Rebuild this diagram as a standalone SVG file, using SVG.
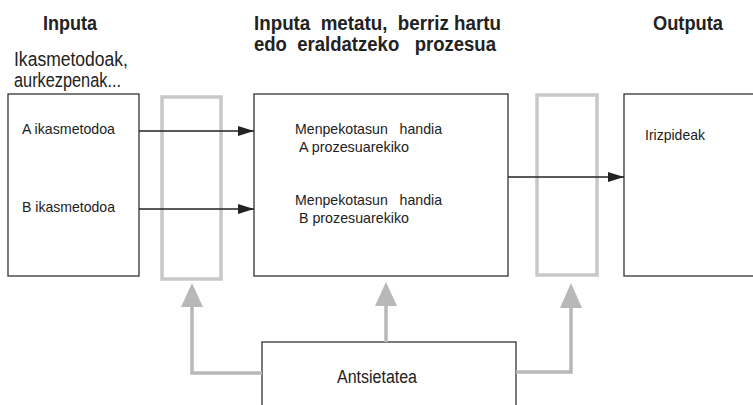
<svg xmlns="http://www.w3.org/2000/svg" width="753" height="405" viewBox="0 0 753 405">
<style>
text{font-family:"Liberation Sans",Arial,sans-serif;fill:#222}
.h{font-weight:bold;font-size:20px}
.s{font-size:20px}
.t{font-size:15px}
.box{fill:#fff;stroke:#333;stroke-width:1.3}
.gbox{fill:none;stroke:#c8c8c8;stroke-width:3.5}
.ln{stroke:#222;stroke-width:1.3;fill:none}
.gl{stroke:#b8b8b8;stroke-width:3.5;fill:none}
</style>
<defs>
<marker id="ah" markerWidth="16" markerHeight="10" refX="16" refY="5" orient="auto" markerUnits="userSpaceOnUse">
<path d="M0,0 L16,5 L0,10 Z" fill="#222"/>
</marker>
</defs>
<g id="headings">
<text class="h" x="43" y="30" textLength="54" lengthAdjust="spacingAndGlyphs">Inputa</text>
<text class="h" x="254" y="30" textLength="247" lengthAdjust="spacingAndGlyphs" xml:space="preserve">Inputa  metatu,  berriz hartu</text>
<text class="h" x="254" y="51" textLength="242" lengthAdjust="spacingAndGlyphs" xml:space="preserve">edo  eraldatzeko   prozesua</text>
<text class="h" x="653" y="30" textLength="70" lengthAdjust="spacingAndGlyphs">Outputa</text>
<text class="s" x="14" y="66" textLength="114" lengthAdjust="spacingAndGlyphs">Ikasmetodoak,</text>
<text class="s" x="14" y="87" textLength="107" lengthAdjust="spacingAndGlyphs">aurkezpenak...</text>
</g>
<g id="input">
<rect class="box" x="8" y="94" width="131" height="182"/>
<text class="t" x="22" y="134" textLength="93" lengthAdjust="spacingAndGlyphs">A ikasmetodoa</text>
<text class="t" x="22" y="212" textLength="93" lengthAdjust="spacingAndGlyphs">B ikasmetodoa</text>
</g>
<g id="filter1"><rect class="gbox" x="162" y="97" width="59" height="182"/></g>
<g id="process">
<rect class="box" x="254" y="94" width="254" height="182"/>
<text class="t" x="295" y="134" textLength="147" lengthAdjust="spacingAndGlyphs" xml:space="preserve">Menpekotasun   handia</text>
<text class="t" x="299" y="152" textLength="110" lengthAdjust="spacingAndGlyphs">A prozesuarekiko</text>
<text class="t" x="295" y="205" textLength="147" lengthAdjust="spacingAndGlyphs" xml:space="preserve">Menpekotasun   handia</text>
<text class="t" x="299" y="223" textLength="110" lengthAdjust="spacingAndGlyphs">B prozesuarekiko</text>
</g>
<g id="filter2"><rect class="gbox" x="537" y="95" width="60" height="180"/></g>
<g id="output">
<rect class="box" x="624" y="94" width="140" height="182"/>
<text class="t" x="645" y="140" textLength="60" lengthAdjust="spacingAndGlyphs">Irizpideak</text>
</g>
<g id="anxiety">
<rect class="box" x="262" y="342" width="254" height="80"/>
<text x="337" y="383" style="font-size:18px" textLength="80" lengthAdjust="spacingAndGlyphs">Antsietatea</text>
</g>
<g id="connectors">
<line class="ln" x1="139" y1="131" x2="254" y2="131" marker-end="url(#ah)"/>
<line class="ln" x1="139" y1="209" x2="254" y2="209" marker-end="url(#ah)"/>
<line class="ln" x1="508" y1="177" x2="624" y2="177" marker-end="url(#ah)"/>
<polyline class="gl" points="262,373 192,373 192,306"/>
<polygon points="181,307 203,307 192,283" fill="#b8b8b8"/>
<line class="gl" x1="386" y1="342" x2="386" y2="305"/>
<polygon points="375,306 397,306 386,282" fill="#b8b8b8"/>
<polyline class="gl" points="516,372 571,372 571,307"/>
<polygon points="560,308 582,308 571,283" fill="#b8b8b8"/>
</g>
</svg>
